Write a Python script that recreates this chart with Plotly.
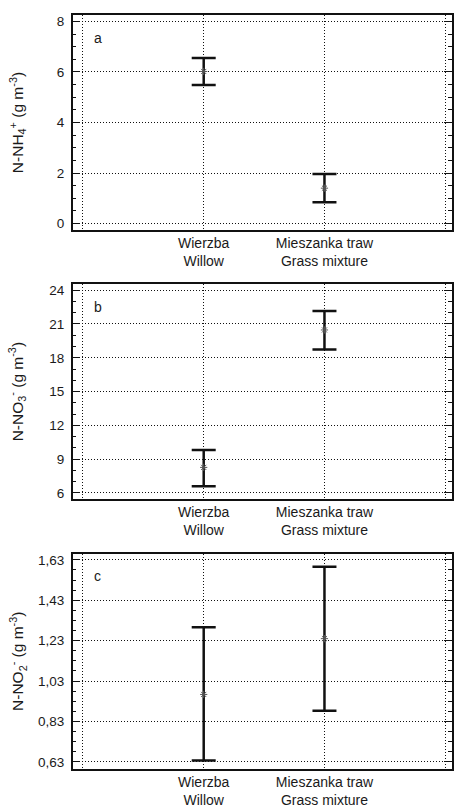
import numpy as np
import plotly.graph_objects as go

W, H = 454, 808

categories = ["Wierzba<br>Willow", "Mieszanka traw<br>Grass mixture"]
cat_pos = [1, 2]

# panel a: N-NH4+
a_mean = [6.02, 1.40]
a_upper = [6.55, 1.96]
a_lower = [5.48, 0.84]
# panel b: N-NO3-
b_mean = [8.27, 20.47]
b_upper = [9.82, 22.15]
b_lower = [6.59, 18.74]
# panel c: N-NO2-
c_mean = [0.964, 1.24]
c_upper = [1.296, 1.596]
c_lower = [0.637, 0.883]

a_ticks = [0, 2, 4, 6, 8]
a_ticktext = ["0", "2", "4", "6", "8"]
b_ticks = [6, 9, 12, 15, 18, 21, 24]
b_ticktext = ["6", "9", "12", "15", "18", "21", "24"]
c_ticks = [0.63, 0.83, 1.03, 1.23, 1.43, 1.63]
c_ticktext = ["0,63", "0,83", "1,03", "1,23", "1,43", "1,63"]

titles = ["N-NH<sub>4</sub><sup>+</sup> (g m<sup>-3</sup>)",
          "N-NO<sub>3</sub><sup>-</sup> (g m<sup>-3</sup>)",
          "N-NO<sub>2</sub><sup>-</sup> (g m<sup>-3</sup>)"]
panel_letters = ["a", "b", "c"]

FONT = "Arial, Liberation Sans, sans-serif"
TXT = "#1a1a1a"

frames = [(14, 230), (285, 500.7), (556, 772.3)]
x_left_px = 73
yranges = [[-0.24, 8.26], [5.5, 24.53], [0.5975, 1.661]]
minor_dt = [0.5, 1, 0.05]
tick_sets = [(a_ticks, a_ticktext), (b_ticks, b_ticktext), (c_ticks, c_ticktext)]
data_sets = [(a_mean, a_upper, a_lower), (b_mean, b_upper, b_lower), (c_mean, c_upper, c_lower)]

fig = go.Figure()
layout = dict(width=W, height=H, margin=dict(l=0, r=0, t=0, b=0),
              paper_bgcolor="white", plot_bgcolor="white", showlegend=False,
              font=dict(family=FONT, color=TXT, size=13))
annotations = []

for i in range(3):
    top, bot = frames[i]
    sfx = "" if i == 0 else str(i + 1)
    xa = "x" + sfx
    ya = "y" + sfx
    mean, up, lo = data_sets[i]
    fig.add_trace(go.Scatter(
        x=cat_pos, y=mean, xaxis=xa, yaxis=ya, mode="markers",
        marker=dict(symbol="asterisk", size=6, color="#555",
                    line=dict(width=1, color="#555")),
        error_y=dict(type="data", symmetric=False,
                     array=[u - m for u, m in zip(up, mean)],
                     arrayminus=[m - l for m, l in zip(mean, lo)],
                     color="#111", thickness=2.5, width=12),
        hoverinfo="skip"))
    ydom = [1 - bot / H, 1 - top / H]
    layout["xaxis" + sfx] = dict(
        domain=[x_left_px / W, 1.0], anchor=ya, range=[-0.085, 3.056],
        tickvals=[0, 1, 2, 3], ticktext=[""] + categories + [""],
        ticks="", showline=True, linecolor="#111", linewidth=1.5, mirror=True,
        showgrid=True, gridcolor="#111", griddash="1px,2px", gridwidth=1,
        zeroline=False, tickfont=dict(size=14, color=TXT, family=FONT),
        fixedrange=True)
    tv, tt = tick_sets[i]
    minor_vals = list(np.round(np.arange(tv[0] - minor_dt[i] * 2, tv[-1] + minor_dt[i] * 2,
                                         minor_dt[i]), 4))
    minor_vals = [float(v) for v in minor_vals
                  if yranges[i][0] <= v <= yranges[i][1]
                  and min(abs(v - t) for t in tv) > 1e-6]
    layout["yaxis" + sfx] = dict(
        domain=ydom, anchor=xa, range=yranges[i],
        tickvals=tv, ticktext=tt, ticks="inside", ticklen=8, tickwidth=1,
        tickcolor="#111", showline=True, linecolor="#111", linewidth=1.5,
        mirror="ticks", showgrid=True, gridcolor="#111", griddash="1px,2px",
        gridwidth=1, zeroline=False, ticklabelstandoff=4,
        tickfont=dict(size=13.5, color=TXT, family=FONT),
        minor=dict(ticks="inside", ticklen=4, tickmode="array", tickvals=minor_vals,
                   tickcolor="#111", tickwidth=1, showgrid=False),
        fixedrange=True)
    annotations.append(dict(
        text=titles[i], xref="paper", yref="paper", x=18 / W,
        y=1 - (top + bot) / 2 / H, textangle=-90, showarrow=False,
        xanchor="center", yanchor="middle",
        font=dict(size=15.5, color=TXT, family=FONT)))
    annotations.append(dict(
        text=panel_letters[i], xref="paper", yref="paper", x=98 / W,
        y=1 - (top + 23) / H, showarrow=False, xanchor="center", yanchor="middle",
        font=dict(size=14, color=TXT, family=FONT)))

layout["annotations"] = annotations
fig.update_layout(**layout)
fig.write_html("out.html", config={"displayModeBar": False})
